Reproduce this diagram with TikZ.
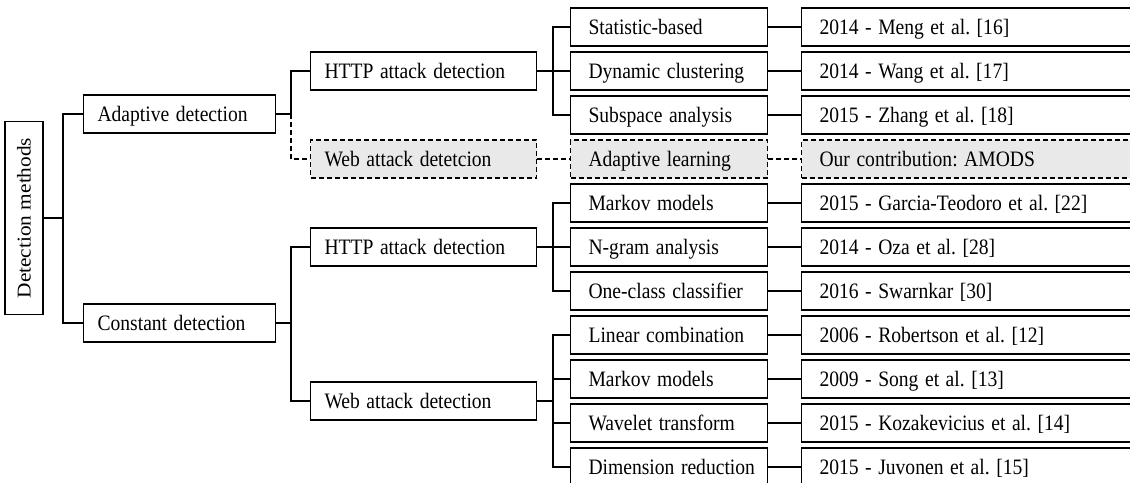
\documentclass[tikz,border=0pt]{standalone}
\usepackage{fontspec}
\setmainfont{Liberation Serif}
\usepackage{graphicx}
\frenchspacing
\newcommand{\sqz}[1]{\scalebox{0.89}[1]{#1}}
\begin{document}
\begin{tikzpicture}[x=1pt,y=-1pt,
  every node/.style={font=\fontsize{22}{26}\selectfont},
  bx/.style={draw, line width=1.1pt, minimum height=38pt, anchor=west, align=left, inner ysep=0pt, text height=15.4pt, text depth=0pt},
  lvA/.style={bx, text width=164pt, inner xsep=14pt},
  lvB/.style={bx, text width=198pt, inner xsep=14pt},
  lvC/.style={bx, text width=161pt, inner xsep=18pt},
  lvD/.style={bx, text width=300pt, inner xsep=18pt},
  ours/.style={dash pattern=on 5pt off 3pt, fill=gray!17},
  ln/.style={line width=1.1pt},
  dln/.style={line width=1.1pt, dash pattern=on 5pt off 3pt}]
\useasboundingbox (0,0) rectangle (1130,482);
\clip (0,0) rectangle (1130,482);
% root
\node[draw, line width=1.1pt, minimum width=38pt, minimum height=193pt, inner sep=0pt, xshift=-2pt] (root) at (26,218) {\rotatebox{90}{\scalebox{0.97}[0.89]{Detection methods}}};
% level 1
\node[lvA] (adapt) at (83,114) {\sqz{Adaptive detection}};
\node[lvA] (const) at (83,323) {\sqz{Constant detection}};
% level 2
\node[lvB] (http1) at (310,71) {\sqz{HTTP attack detection}};
\node[lvB, ours] (webd) at (310,159) {\sqz{Web attack detetcion}};
\node[lvB] (http2) at (310,247) {\sqz{HTTP attack detection}};
\node[lvB] (web2) at (310,401) {\sqz{Web attack detection}};
% level 3
\node[lvC] (c1) at (570,27) {\sqz{Statistic-based}};
\node[lvC] (c2) at (570,71) {\sqz{Dynamic clustering}};
\node[lvC] (c3) at (570,115) {\sqz{Subspace analysis}};
\node[lvC, ours] (c4) at (570,159) {\sqz{Adaptive learning}};
\node[lvC] (c5) at (570,203) {\sqz{Markov models}};
\node[lvC] (c6) at (570,247) {\sqz{N-gram analysis}};
\node[lvC] (c7) at (570,291) {\sqz{One-class classifier}};
\node[lvC] (c8) at (570,335) {\sqz{Linear combination}};
\node[lvC] (c9) at (570,379) {\sqz{Markov models}};
\node[lvC] (c10) at (570,423) {\sqz{Wavelet transform}};
\node[lvC] (c11) at (570,467) {\sqz{Dimension reduction}};
% level 4
\node[lvD] (d1) at (801,27) {\sqz{2014 - Meng et al. [16]}};
\node[lvD] (d2) at (801,71) {\sqz{2014 - Wang et al. [17]}};
\node[lvD] (d3) at (801,115) {\sqz{2015 - Zhang et al. [18]}};
\node[lvD, ours] (d4) at (801,159) {\sqz{Our contribution: AMODS}};
\node[lvD] (d5) at (801,203) {\sqz{2015 - Garcia-Teodoro et al. [22]}};
\node[lvD] (d6) at (801,247) {\sqz{2014 - Oza et al. [28]}};
\node[lvD] (d7) at (801,291) {\sqz{2016 - Swarnkar [30]}};
\node[lvD] (d8) at (801,335) {\sqz{2006 - Robertson et al. [12]}};
\node[lvD] (d9) at (801,379) {\sqz{2009 - Song et al. [13]}};
\node[lvD] (d10) at (801,423) {\sqz{2015 - Kozakevicius et al. [14]}};
\node[lvD] (d11) at (801,467) {\sqz{2015 - Juvonen et al. [15]}};
% junctions
\coordinate (j0) at (63,218);
\coordinate (j1) at (291,114);
\coordinate (j2) at (553,71);
\coordinate (j3) at (291,323);
\coordinate (j4) at (553,247);
\coordinate (j5) at (553,401);
% connectors
\draw[ln] (root.east) -- (j0);
\draw[ln] (adapt.west) -| (j0) |- (const.west);
\draw[ln] (adapt.east) -- (j1);
\draw[ln] (http1.west) -| (j1);
\draw[dln] (j1) |- (webd.west);
\draw[ln] (http1.east) -- (j2);
\draw[ln] (c1.west) -| (j2) |- (c3.west);
\draw[ln] (c2.west) -- (j2);
\draw[dln] (webd.east) -- (c4.west);
\draw[ln] (const.east) -- (j3);
\draw[ln] (http2.west) -| (j3) |- (web2.west);
\draw[ln] (http2.east) -- (j4);
\draw[ln] (c5.west) -| (j4) |- (c7.west);
\draw[ln] (c6.west) -- (j4);
\draw[ln] (web2.east) -- (j5);
\draw[ln] (c8.west) -| (j5) |- (c11.west);
\draw[ln] (c9.west) -| (j5);
\draw[ln] (c10.west) -| (j5);
% level 3 -> 4
\foreach \i in {1,2,3,5,6,7,8,9,10,11} {\draw[ln] (c\i.east) -- (d\i.west);}
\draw[dln] (c4.east) -- (d4.west);
\end{tikzpicture}
\end{document}
